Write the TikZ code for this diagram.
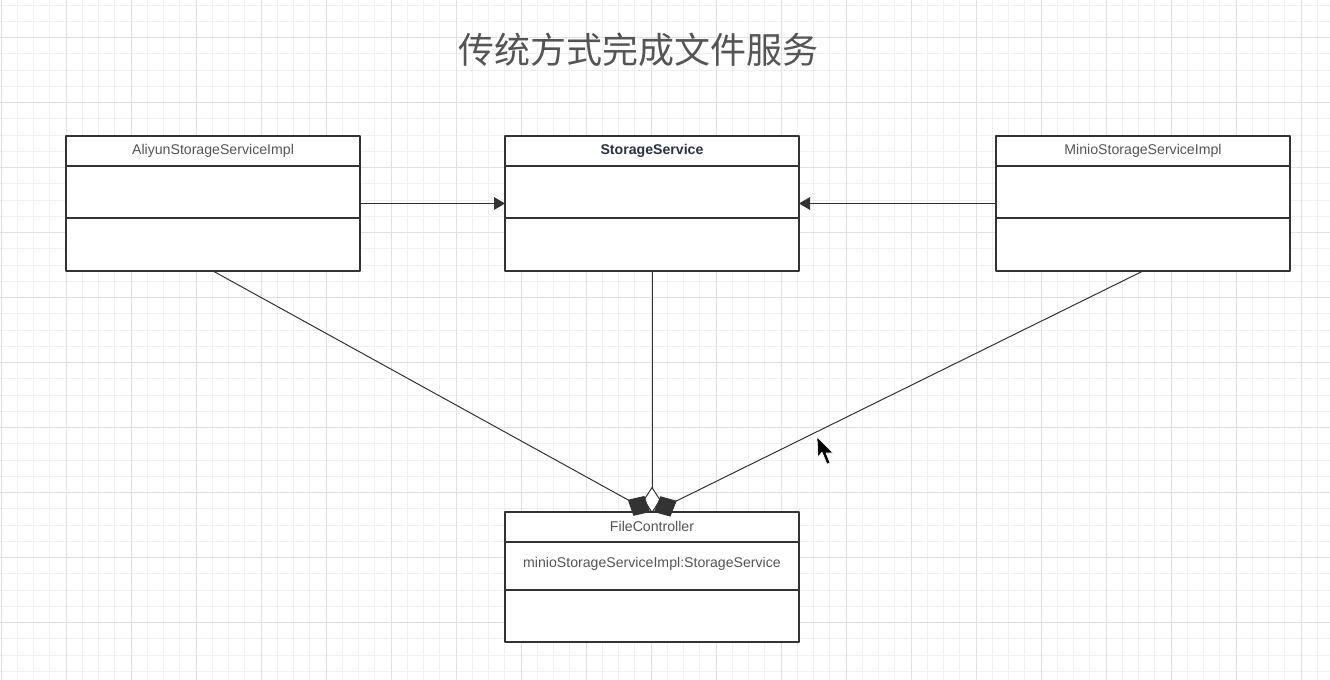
\documentclass[tikz,border=0pt]{standalone}
\usepackage{fontspec}
\setmainfont{Liberation Sans}
\newfontfamily\cjktitle{Noto Sans CJK SC}
\usepackage{tikz}
\usetikzlibrary{arrows.meta}
\definecolor{gridminor}{HTML}{F0F0F0}
\definecolor{gridmajor}{HTML}{E0E0E0}
\definecolor{boxline}{HTML}{333333}
\definecolor{labelgray}{HTML}{555555}
\definecolor{ifacenavy}{HTML}{2B3245}
\tikzset{
  every picture/.style={line join=round, line cap=round, >=Stealth},
  classbox/.style={draw=boxline, line width=1.1pt, fill=white, inner sep=0pt, outer sep=0pt,
    minimum width=220.5pt, minimum height=101.25pt},
  classname/.style={text=labelgray, font=\fontsize{10.6}{12}\selectfont, inner sep=1pt},
  divider/.style={draw=boxline, line width=1.1pt},
  realize/.style={draw=boxline, line width=0.75pt, -{Triangle[length=8.25pt, width=9.5pt]}},
  aggregate/.style={draw=boxline, line width=0.75pt, -{Diamond[open, fill=white, length=20pt, width=13pt]}},
  compose/.style={draw=boxline, line width=0.75pt, -{Diamond[fill=boxline, length=19pt, width=17pt]}},
}

\begin{document}
\begin{tikzpicture}[x=0.75pt, y=-0.75pt]
\useasboundingbox (0,0) rectangle (1330,679);
\fill[white] (0,0) rectangle (1330,679);
% background grid
\foreach \gx in {1,17.25,...,1330} \draw[gridminor, line width=0.75pt] (\gx,0) -- (\gx,679);
\foreach \gy in {5,21.25,...,679} \draw[gridminor, line width=0.75pt] (0,\gy) -- (1330,\gy);
\foreach \gx in {1,66,...,1330} \draw[gridmajor, line width=0.75pt] (\gx,0) -- (\gx,679);
\foreach \gy in {37.5,102.5,...,679} \draw[gridmajor, line width=0.75pt] (0,\gy) -- (1330,\gy);

\node[text=labelgray, font=\cjktitle\fontsize{27}{30}\selectfont] (title) at (638,50) {传统方式完成文件服务};

% classes
\node[classbox] (aliyun) at (213,203.5) {};
\node[classbox] (storage) at (652,203.5) {};
\node[classbox] (minio) at (1143,203.5) {};
\node[classbox, minimum height=97.5pt] (ctrl) at (652,577) {};

\draw[divider] (66,166) -- (360,166);
\draw[divider] (66,218) -- (360,218);
\draw[divider] (505,166) -- (799,166);
\draw[divider] (505,218) -- (799,218);
\draw[divider] (996,166) -- (1290,166);
\draw[divider] (996,218) -- (1290,218);
\draw[divider] (505,542) -- (799,542);
\draw[divider] (505,590) -- (799,590);

\node[classname] (aliyunname) at (213,151) {AliyunStorageServiceImpl};
\node[classname, text=ifacenavy, font=\fontsize{10.6}{12}\selectfont\bfseries] (storagename) at (652,151) {StorageService};
\node[classname] (minioname) at (1143,151) {MinioStorageServiceImpl};
\node[classname] (ctrlname) at (652,526) {FileController};
\node[classname] (ctrlfield) at (652,564) {minioStorageServiceImpl:StorageService};

% relations
\draw[realize] (aliyun) -- (storage);
\draw[realize] (minio) -- (storage);
\draw[aggregate] (storage) -- ([yshift=-1pt]ctrl.north);
\draw[compose] (aliyun.south) -- ([xshift=-1.5pt]ctrl.north);
\draw[compose] (minio.south) -- ([xshift=1.5pt]ctrl.north);

% mouse pointer
\fill[black, draw=white, line width=0.4pt] (817,437) -- (818,457) -- (822,452) -- (827,464)
  -- (830,463) -- (826,453) -- (833,453) -- cycle;
\end{tikzpicture}
\end{document}
